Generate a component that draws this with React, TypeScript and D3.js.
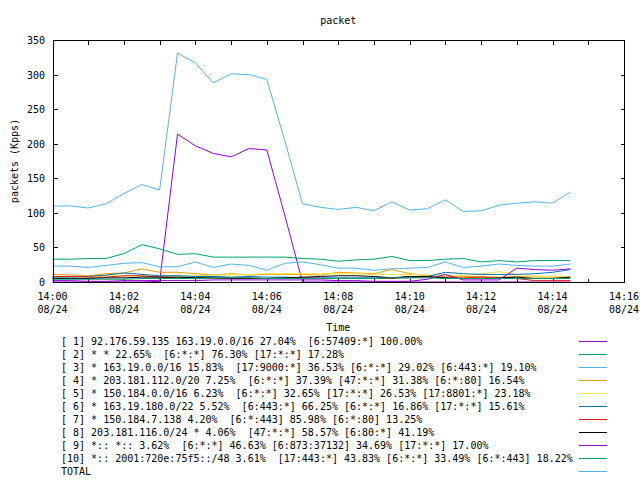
import React from "react";
import * as d3 from "d3";

const W = 640;
const H = 480;

const title = "packet";
const yLabel = "packets (Kpps)";
const xLabel = "Time";

const startTime = new Date(2000, 7, 24, 14, 0, 0);
const endTime = new Date(2000, 7, 24, 14, 16, 0);
const stepSeconds = 30;

const yTicks = [0, 50, 100, 150, 200, 250, 300, 350];

const seriesNames = [
  "[ 1] 92.176.59.135 163.19.0.0/16 27.04%  [6:57409:*] 100.00%",
  "[ 2] * * 22.65%  [6:*:*] 76.30% [17:*:*] 17.28%",
  "[ 3] * 163.19.0.0/16 15.83%  [17:9000:*] 36.53% [6:*:*] 29.02% [6:443:*] 19.10%",
  "[ 4] * 203.181.112.0/20 7.25%  [6:*:*] 37.39% [47:*:*] 31.38% [6:*:80] 16.54%",
  "[ 5] * 150.184.0.0/16 6.23%  [6:*:*] 32.65% [17:*:*] 26.53% [17:8801:*] 23.18%",
  "[ 6] * 163.19.180.0/22 5.52%  [6:443:*] 66.25% [6:*:*] 16.86% [17:*:*] 15.61%",
  "[ 7] * 150.184.7.138 4.20%  [6:*:443] 85.98% [6:*:80] 13.25%",
  "[ 8] 203.181.116.0/24 * 4.06%  [47:*:*] 58.57% [6:80:*] 41.19%",
  "[ 9] *:: *:: 3.62%  [6:*:*] 46.63% [6:873:37132] 34.69% [17:*:*] 17.00%",
  "[10] *:: 2001:720e:75f5::/48 3.61%  [17:443:*] 43.83% [6:*:*] 33.49% [6:*:443] 18.22%",
  "TOTAL",
];

const seriesColors = [
  "#9400d3", "#009e73", "#56b4e9", "#e69f00", "#f0e442", "#0072b2",
  "#e51e10", "#000000", "#9400d3", "#009e73", "#56b4e9",
];

const s1 = [0, 0, 0, 0, 0, 0, 1, 214, 197, 186, 181, 193, 191, 97, 0, 0, 0, 0, 0, 0, 0, 0, 0, 0, 0, 0, 0, 0, 0, 0];
const s2 = [33, 33, 34, 34, 41, 54, 48, 40, 41, 36, 36, 36, 36, 36, 34, 33, 30, 32, 33, 37, 31, 31, 33, 34, 29, 31, 29, 31, 31, 31];
const s3 = [23, 23, 21, 24, 27, 28, 22, 22, 29, 21, 26, 24, 17, 27, 29, 25, 20, 20, 17, 19, 20, 21, 29, 21, 23, 26, 24, 23, 23, 26];
const s4 = [11, 10, 9, 12, 13, 19, 14, 14, 12, 10, 12, 10, 11, 11, 11, 10, 14, 13, 12, 18, 12, 9, 8, 8, 8, 7, 8, 7, 7, 7];
const s5 = [8, 8, 8, 9, 9, 9, 8, 9, 9, 10, 10, 11, 12, 12, 12, 12, 12, 12, 11, 11, 11, 10, 10, 9, 12, 15, 11, 9, 8, 8];
const s6 = [7, 7, 8, 10, 13, 11, 9, 9, 8, 8, 7, 8, 7, 7, 6, 6, 6, 6, 6, 6, 6, 8, 14, 12, 11, 11, 11, 12, 14, 18];
const s7 = [8, 8, 7, 7, 9, 9, 7, 6, 6, 6, 6, 6, 5, 5, 6, 5, 5, 5, 5, 5, 8, 7, 6, 6, 7, 5, 5, 2, 2, 2];
const s8 = [5, 5, 5, 6, 6, 7, 7, 7, 6, 6, 5, 5, 5, 6, 7, 8, 9, 9, 8, 6, 8, 8, 6, 5, 5, 6, 7, 5, 5, 7];
const s9 = [2, 2, 1, 1, 2, 2, 2, 2, 2, 3, 3, 3, 3, 3, 3, 3, 2, 2, 1, 1, 1, 4, 11, 3, 3, 3, 20, 18, 17, 19];
const s10 = [4, 4, 4, 4, 4, 5, 5, 5, 5, 6, 6, 6, 5, 5, 5, 5, 5, 5, 5, 6, 6, 6, 5, 5, 5, 5, 5, 5, 5, 5];
const total = [110, 110, 107, 113, 128, 141, 133, 331, 317, 288, 301, 300, 293, 205, 113, 108, 105, 108, 103, 116, 104, 106, 119, 102, 103, 111, 114, 116, 114, 130];

const allSeries = [s1, s2, s3, s4, s5, s6, s7, s8, s9, s10, total];

const FONT = "'DejaVu Sans Mono', monospace";

export default function App() {
  const left = 52.5;
  const right = 624;
  const top = 40;
  const bottom = 282;

  const x = d3.scaleTime().domain([startTime, endTime]).range([left, right]);
  const y = d3.scaleLinear().domain([0, 350]).range([bottom, top]);

  const times = total.map((_, i) => new Date(startTime.getTime() + i * stepSeconds * 1000));

  const line = d3
    .line<number>()
    .x((_, i) => x(times[i]))
    .y((d) => y(d));

  const minuteTicks = d3.timeMinute.every(1)!.range(startTime, new Date(endTime.getTime() + 1));
  const labelTicks = d3.timeMinute.every(2)!.range(startTime, new Date(endTime.getTime() + 1));
  const fmtTime = d3.timeFormat("%H:%M");
  const fmtDate = d3.timeFormat("%m/%d");

  const r = (v: number) => Math.round(v) + 0.5;
  const L = r(left);
  const R = r(right);
  const T = r(top);
  const B = r(bottom);
  const tick = 4;
  const cx = (left + right) / 2;

  return (
    <svg width={W} height={H} style={{ display: "block", position: "absolute", left: 0, top: 0, background: "#fff" }} fontFamily={FONT} fontSize={10}>
      <rect x={0} y={0} width={W} height={H} fill="#fff" />
      <text x={cx} y={24} textAnchor="middle">{title}</text>
      <text transform={`translate(18,${(top + bottom) / 2}) rotate(-90)`} textAnchor="middle">{yLabel}</text>

      <g shapeRendering="crispEdges" stroke="#000" strokeWidth={1}>
        {yTicks.map((t) => (
          <g key={"yt" + t}>
            <line x1={L} x2={L + tick} y1={r(y(t))} y2={r(y(t))} />
            <line x1={R} x2={R - tick} y1={r(y(t))} y2={r(y(t))} />
          </g>
        ))}
        {minuteTicks.map((t, i) => (
          <g key={"xt" + i}>
            <line x1={r(x(t))} x2={r(x(t))} y1={B} y2={B - tick} />
            <line x1={r(x(t))} x2={r(x(t))} y1={T} y2={T + tick} />
          </g>
        ))}
      </g>

      {yTicks.map((t) => (
        <text key={"yl" + t} x={45} y={y(t) + 4} textAnchor="end">{t}</text>
      ))}
      {labelTicks.map((t, i) => (
        <g key={"xl" + i}>
          <text x={x(t)} y={300} textAnchor="middle">{fmtTime(t)}</text>
          <text x={x(t)} y={313} textAnchor="middle">{fmtDate(t)}</text>
        </g>
      ))}
      <text x={cx} y={331} textAnchor="middle">{xLabel}</text>

      <g fill="none" strokeWidth={1}>
        {allSeries.map((s, k) => (
          <path key={"s" + k} d={line(s) || ""} stroke={seriesColors[k]} />
        ))}
      </g>

      <rect x={L} y={T} width={R - L} height={B - T} fill="none" stroke="#000" shapeRendering="crispEdges" />

      {seriesNames.map((n, k) => (
        <g key={"lg" + k}>
          <text x={61} y={341 + 13 * k + 4} style={{ whiteSpace: "pre" }} xmlSpace="preserve">{n}</text>
          <line x1={579} x2={607} y1={r(341 + 13 * k)} y2={r(341 + 13 * k)} stroke={seriesColors[k]} shapeRendering="crispEdges" />
        </g>
      ))}
    </svg>
  );
}
